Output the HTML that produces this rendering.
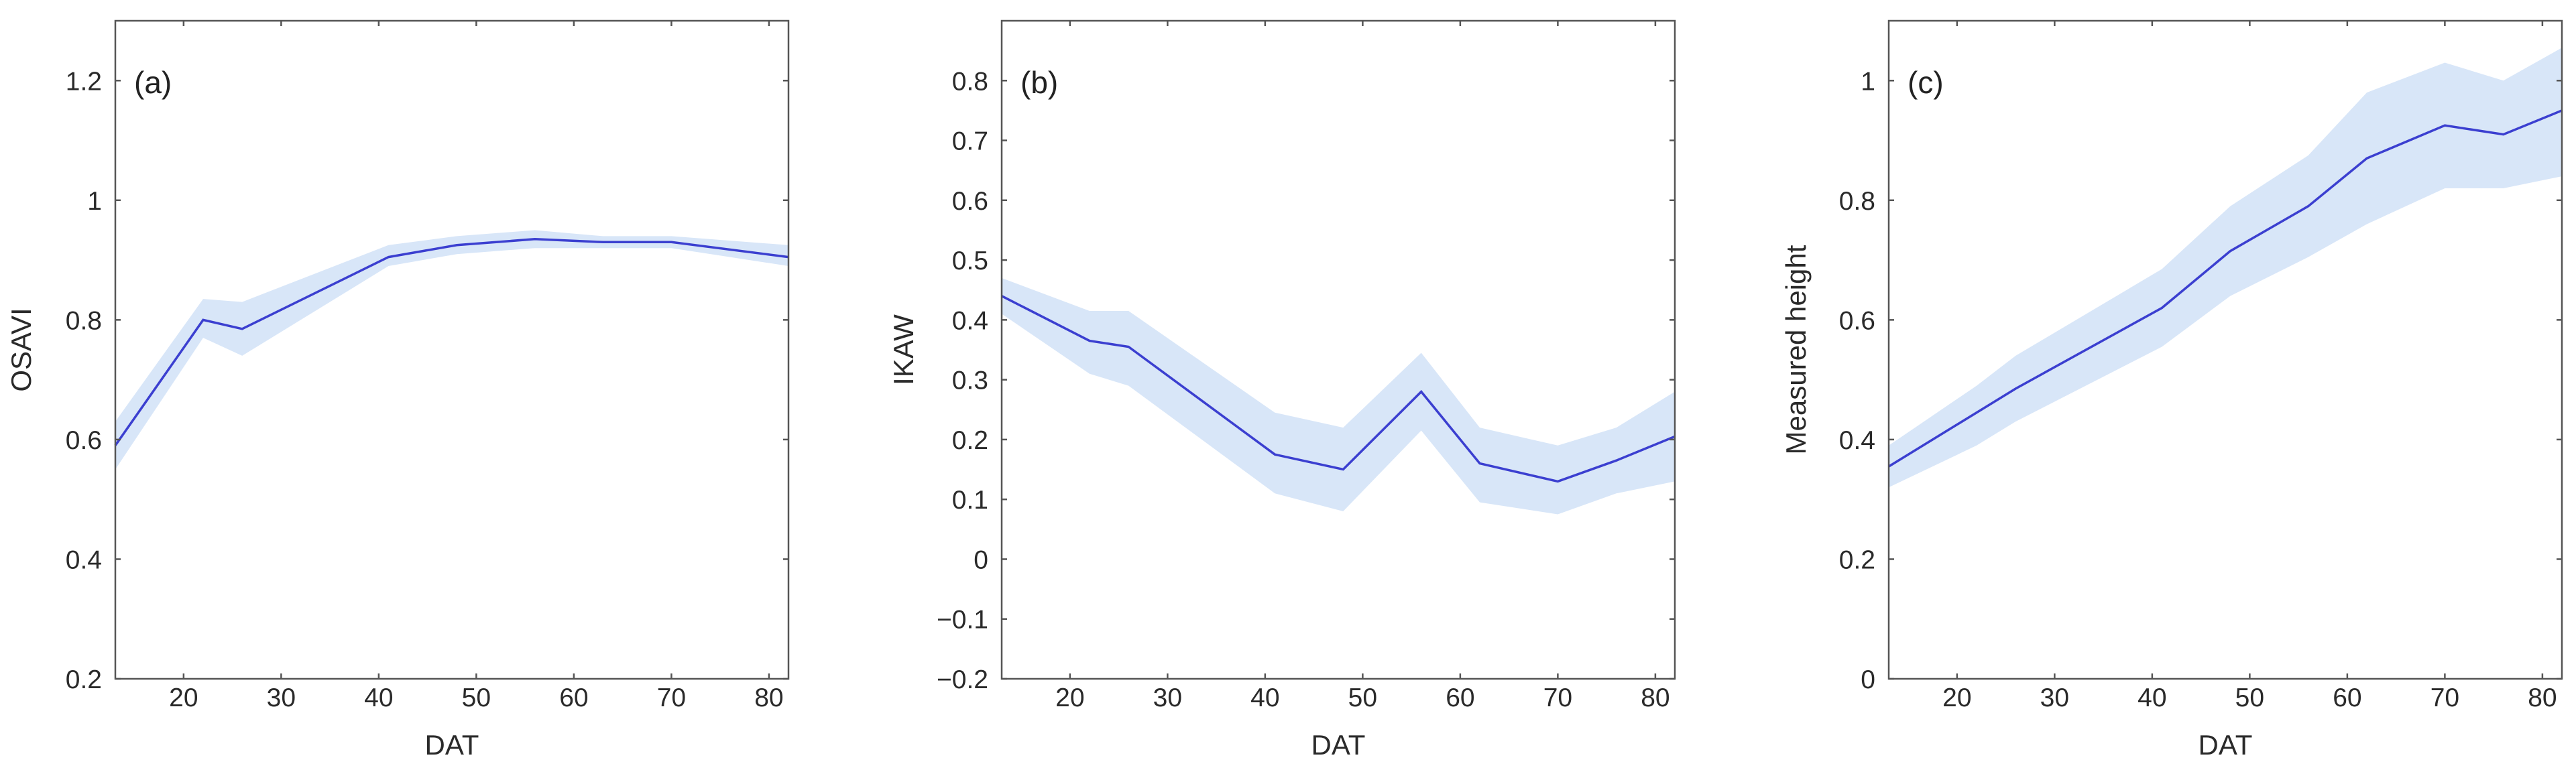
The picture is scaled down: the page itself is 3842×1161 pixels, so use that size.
<!DOCTYPE html>
<html><head><meta charset="utf-8"><style>
html,body{margin:0;padding:0;background:#fff;}
svg{display:block;font-family:"Liberation Sans",Arial,sans-serif;}
</style></head><body>
<svg id="fig" width="3842" height="1161" viewBox="0 0 3842 1161" xmlns="http://www.w3.org/2000/svg"></svg>
<script>
const xA = [13,22,26,41,48,56,63,70,82];
const osaviMean = [0.59,0.80,0.785,0.905,0.925,0.935,0.93,0.93,0.905];
const osaviUpper = [0.63,0.835,0.83,0.925,0.94,0.95,0.94,0.94,0.925];
const osaviLower = [0.55,0.77,0.74,0.89,0.91,0.92,0.92,0.92,0.89];

const xB = [13,22,26,41,48,56,62,70,76,82];
const ikawMean = [0.44,0.365,0.355,0.175,0.15,0.28,0.16,0.13,0.165,0.205];
const ikawUpper = [0.47,0.415,0.415,0.245,0.22,0.345,0.22,0.19,0.22,0.28];
const ikawLower = [0.41,0.31,0.29,0.11,0.08,0.215,0.095,0.075,0.11,0.13];

const xC = [13,22,26,41,48,56,62,70,76,82];
const heightMean = [0.355,0.445,0.485,0.62,0.715,0.79,0.87,0.925,0.91,0.95];
const heightUpper = [0.39,0.49,0.54,0.685,0.79,0.875,0.98,1.03,1.0,1.055];
const heightLower = [0.32,0.39,0.43,0.555,0.64,0.705,0.76,0.82,0.82,0.84];

const xTicks = [20,30,40,50,60,70,80];
const yTicksA = [0.2,0.4,0.6,0.8,1,1.2];
const yTicksB = [-0.2,-0.1,0,0.1,0.2,0.3,0.4,0.5,0.6,0.7,0.8];
const yTicksC = [0,0.2,0.4,0.6,0.8,1];
const yLabelsA = ["0.2","0.4","0.6","0.8","1","1.2"];
const yLabelsB = ["-0.2","-0.1","0","0.1","0.2","0.3","0.4","0.5","0.6","0.7","0.8"];
const yLabelsC = ["0","0.2","0.4","0.6","0.8","1"];

const NS = "http://www.w3.org/2000/svg";
const svg = document.getElementById('fig');
function mk(tag, attrs, parent){
  const e = document.createElementNS(NS, tag);
  for (const k in attrs) e.setAttribute(k, attrs[k]);
  (parent||svg).appendChild(e);
  return e;
}
function panel(id, left, ymin, ymax, xs, mean, up, lo, yt, yl, ylab, letter){
  const right = left + 1004, top = 31, bottom = 1013;
  const xmin = 13, xmax = 82;
  const X = v => left + (v - xmin) / (xmax - xmin) * (right - left);
  const Y = v => bottom - (v - ymin) / (ymax - ymin) * (bottom - top);
  const g = mk('g', {});
  
  
  let d = xs.map((x,i)=>(i?'L':'M')+X(x).toFixed(1)+','+Y(up[i]).toFixed(1)).join(' ');
  for (let i = xs.length-1; i>=0; i--) d += ' L'+X(xs[i]).toFixed(1)+','+Y(lo[i]).toFixed(1);
  const band = mk('path', {d: d+' Z', fill:'#d8e6f8', stroke:'none'}, g);
  
  
  const line = mk('polyline', {points: xs.map((x,i)=>X(x).toFixed(1)+','+Y(mean[i]).toFixed(1)).join(' '), fill:'none', stroke:'#3b3fd0', 'stroke-width':3.5}, g);
  
  
  const box = mk('rect', {x:left, y:top, width:right-left, height:bottom-top, fill:'none', stroke:'#555', 'stroke-width':2.5}, g);
  
  
  xTicks.forEach(t=>{
    const x = X(t);
    mk('line',{x1:x,x2:x,y1:bottom,y2:bottom-8,stroke:'#555','stroke-width':2.5},g);
    mk('line',{x1:x,x2:x,y1:top,y2:top+8,stroke:'#555','stroke-width':2.5},g);
    const tx = mk('text',{x:x,y:1054,'text-anchor':'middle','font-size':39,fill:'#2a2a2a'},g);
    tx.textContent = t;
    
    
  });
  yt.forEach((t,i)=>{
    const y = Y(t);
    mk('line',{x1:left,x2:left+8,y1:y,y2:y,stroke:'#555','stroke-width':2.5},g);
    mk('line',{x1:right,x2:right-8,y1:y,y2:y,stroke:'#555','stroke-width':2.5},g);
    const tx = mk('text',{x:left-20,y:y+14,'text-anchor':'end','font-size':39,fill:'#2a2a2a'},g);
    tx.textContent = yl[i].replace('-','\u2212');
    
    
  });
  const xt = mk('text',{x:(left+right)/2,y:1126,'text-anchor':'middle','font-size':42,fill:'#2a2a2a'},g);
  xt.textContent = 'DAT';
  
  
  const lx = left - (ylab === 'OSAVI' ? 126 : (ylab==='IKAW'?132:124));
  const ytl = mk('text',{x:lx,y:(top+bottom)/2,'text-anchor':'middle','font-size':42,fill:'#2a2a2a',transform:'rotate(-90 '+lx+' '+((top+bottom)/2)+')'},g);
  ytl.textContent = ylab;
  
  
  const pl = mk('text',{x:left+28,y:139,'font-size':46,fill:'#222'},g);
  pl.textContent = letter;
  
  
}
panel('a', 172, 0.2, 1.3, xA, osaviMean, osaviUpper, osaviLower, yTicksA, yLabelsA, 'OSAVI', '(a)');
panel('b', 1494, -0.2, 0.9, xB, ikawMean, ikawUpper, ikawLower, yTicksB, yLabelsB, 'IKAW', '(b)');
panel('c', 2817, 0, 1.1, xC, heightMean, heightUpper, heightLower, yTicksC, yLabelsC, 'Measured height', '(c)');
</script>
</body></html>
